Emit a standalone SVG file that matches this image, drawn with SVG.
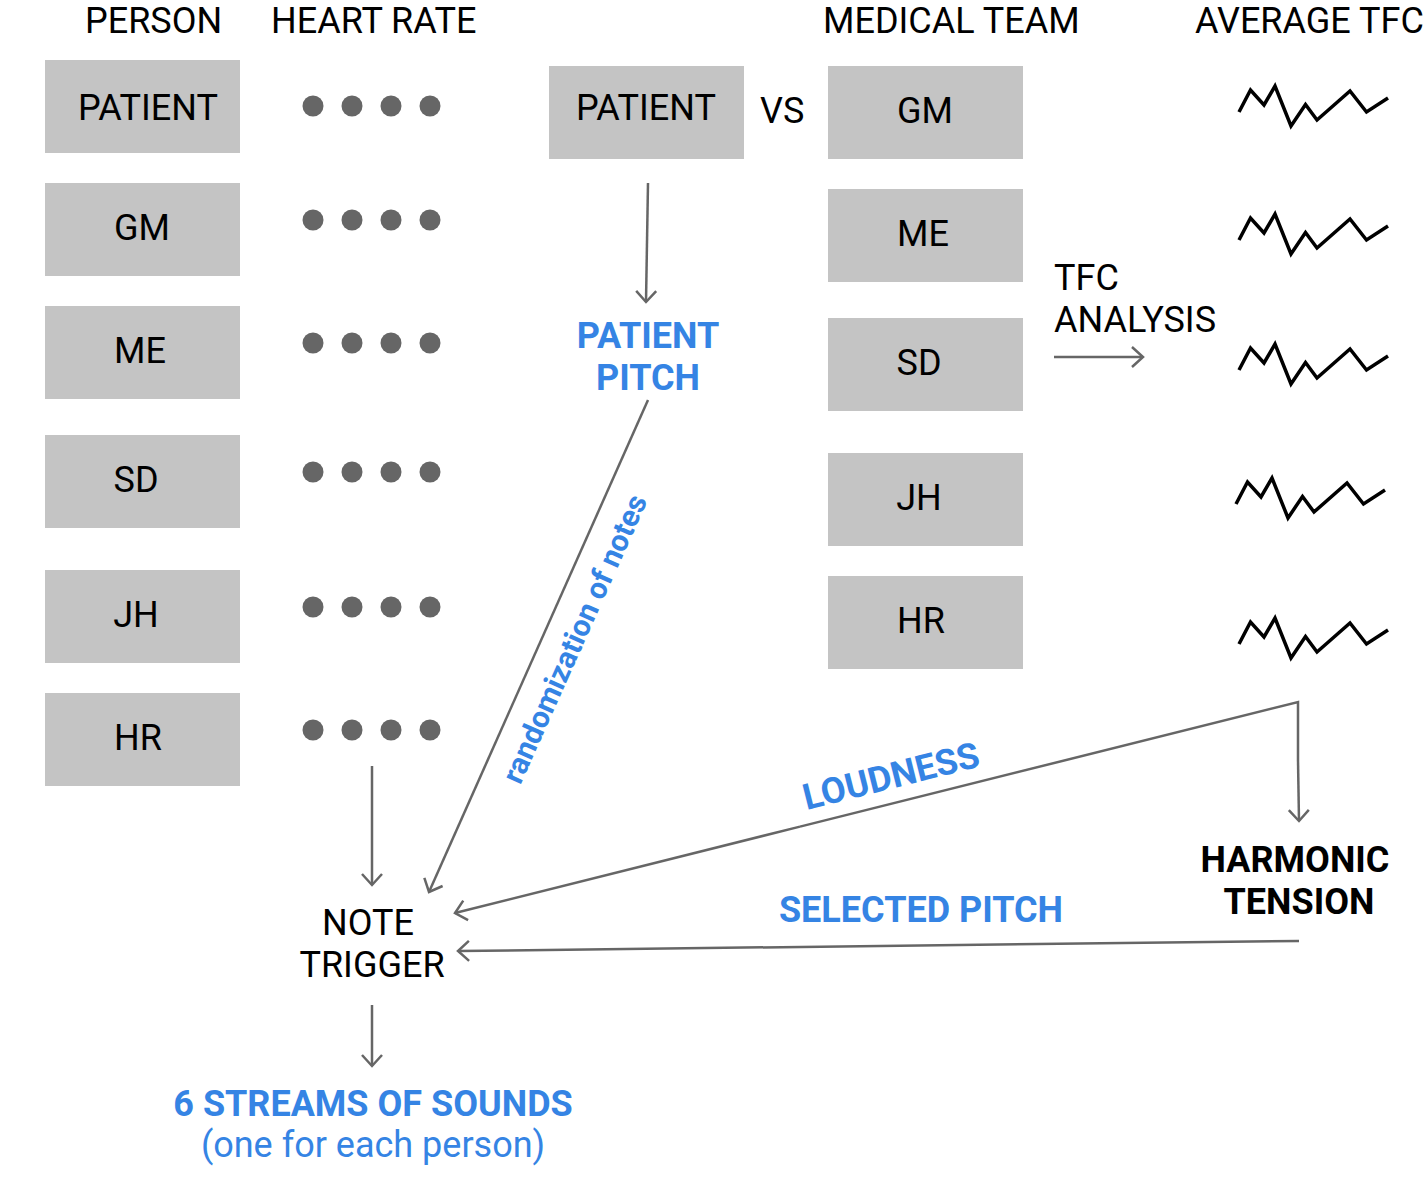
<svg xmlns="http://www.w3.org/2000/svg" width="1428" height="1191" viewBox="0 0 1428 1191">
<style>
text{font-family:Roboto,"Liberation Sans",sans-serif;}
.hd{font-size:36px;fill:#000;}
.bx{fill:#c4c4c4;}
.bt{font-size:36px;fill:#000;text-anchor:middle;}
.dot{fill:#666;}
.wave{fill:none;stroke:#000;stroke-width:3.5;stroke-linejoin:miter;}
.con{fill:none;stroke:#666;stroke-width:2.5;marker-end:url(#ah);}
.plain{fill:none;stroke:#666;stroke-width:2.5;}
.blue{fill:#3584e4;}
.bb{font-weight:bold;font-size:36px;}
</style>
<defs>
<marker id="ah" markerUnits="userSpaceOnUse" markerWidth="30" markerHeight="30" refX="0" refY="0" viewBox="-15 -15 30 30" orient="auto">
<path d="M-11,-10 L0,0 L-11,10" fill="none" stroke="#666" stroke-width="2.5"/>
</marker>
<path id="wv" d="M0,0 L11.5,-22 L25,-7 L36,-26 L52,14 L66.5,-7.5 L78,8 L111,-21 L127.5,0 L149,-14"/>
</defs>
<g id="headers">
<text class="hd" x="85" y="33">PERSON</text>
<text class="hd" x="271" y="33">HEART RATE</text>
<text class="hd" x="823" y="33">MEDICAL TEAM</text>
<text class="hd" x="1195" y="33">AVERAGE TFC</text>
</g>
<g id="person-patient"><rect class="bx" x="45" y="60" width="195" height="93"/><text class="bt" x="148" y="120">PATIENT</text></g>
<g id="person-gm"><rect class="bx" x="45" y="183" width="195" height="93"/><text class="bt" x="142" y="240">GM</text></g>
<g id="person-me"><rect class="bx" x="45" y="306" width="195" height="93"/><text class="bt" x="140" y="363">ME</text></g>
<g id="person-sd"><rect class="bx" x="45" y="435" width="195" height="93"/><text class="bt" x="136" y="492">SD</text></g>
<g id="person-jh"><rect class="bx" x="45" y="570" width="195" height="93"/><text class="bt" x="136" y="627">JH</text></g>
<g id="person-hr"><rect class="bx" x="45" y="693" width="195" height="93"/><text class="bt" x="138" y="750">HR</text></g>
<g id="heart-rate">
<g id="hr1"><circle class="dot" cx="313" cy="106" r="10.5"/><circle class="dot" cx="352" cy="106" r="10.5"/><circle class="dot" cx="391" cy="106" r="10.5"/><circle class="dot" cx="430" cy="106" r="10.5"/></g>
<g id="hr2"><circle class="dot" cx="313" cy="220" r="10.5"/><circle class="dot" cx="352" cy="220" r="10.5"/><circle class="dot" cx="391" cy="220" r="10.5"/><circle class="dot" cx="430" cy="220" r="10.5"/></g>
<g id="hr3"><circle class="dot" cx="313" cy="343" r="10.5"/><circle class="dot" cx="352" cy="343" r="10.5"/><circle class="dot" cx="391" cy="343" r="10.5"/><circle class="dot" cx="430" cy="343" r="10.5"/></g>
<g id="hr4"><circle class="dot" cx="313" cy="472" r="10.5"/><circle class="dot" cx="352" cy="472" r="10.5"/><circle class="dot" cx="391" cy="472" r="10.5"/><circle class="dot" cx="430" cy="472" r="10.5"/></g>
<g id="hr5"><circle class="dot" cx="313" cy="607" r="10.5"/><circle class="dot" cx="352" cy="607" r="10.5"/><circle class="dot" cx="391" cy="607" r="10.5"/><circle class="dot" cx="430" cy="607" r="10.5"/></g>
<g id="hr6"><circle class="dot" cx="313" cy="730" r="10.5"/><circle class="dot" cx="352" cy="730" r="10.5"/><circle class="dot" cx="391" cy="730" r="10.5"/><circle class="dot" cx="430" cy="730" r="10.5"/></g>
</g>
<g id="patient-mid"><rect class="bx" x="549" y="66" width="195" height="93"/><text class="bt" x="646" y="120">PATIENT</text></g>
<g id="vs"><text class="hd" x="760" y="123">VS</text></g>
<g id="team-gm"><rect class="bx" x="828" y="66" width="195" height="93"/><text class="bt" x="925" y="123">GM</text></g>
<g id="team-me"><rect class="bx" x="828" y="189" width="195" height="93"/><text class="bt" x="923" y="246">ME</text></g>
<g id="team-sd"><rect class="bx" x="828" y="318" width="195" height="93"/><text class="bt" x="919" y="375">SD</text></g>
<g id="team-jh"><rect class="bx" x="828" y="453" width="195" height="93"/><text class="bt" x="919" y="510">JH</text></g>
<g id="team-hr"><rect class="bx" x="828" y="576" width="195" height="93"/><text class="bt" x="921" y="633">HR</text></g>
<g id="tfc-waves">
<use href="#wv" class="wave" x="1239" y="112"/>
<use href="#wv" class="wave" x="1239" y="240"/>
<use href="#wv" class="wave" x="1239" y="370"/>
<use href="#wv" class="wave" x="1236" y="504"/>
<use href="#wv" class="wave" x="1239" y="644"/>
</g>
<g id="tfc-analysis"><text class="hd" x="1054" y="290">TFC</text><text class="hd" x="1054" y="332">ANALYSIS</text></g>
<g id="patient-pitch"><text class="blue bb" text-anchor="middle" x="648" y="348">PATIENT</text><text class="blue bb" text-anchor="middle" x="648" y="390">PITCH</text></g>
<g id="note-trigger"><text class="hd" text-anchor="middle" x="368" y="935">NOTE</text><text class="hd" text-anchor="middle" x="372" y="977">TRIGGER</text></g>
<g id="harmonic-tension"><text class="bb" text-anchor="middle" x="1295" y="872">HARMONIC</text><text class="bb" text-anchor="middle" x="1299" y="914">TENSION</text></g>
<g id="streams"><text class="blue bb" text-anchor="middle" x="373" y="1116">6 STREAMS OF SOUNDS</text><text class="blue" font-size="36" text-anchor="middle" x="373" y="1157">(one for each person)</text></g>
<g id="connectors">
<line class="con" x1="1054" y1="357" x2="1143" y2="357"/>
<line class="con" x1="648" y1="183" x2="646" y2="302"/>
<line class="con" x1="648" y1="400" x2="429" y2="892"/>
<polyline class="plain" points="1298,760 1298,702 800,826.6"/>
<line class="con" x1="1298" y1="760" x2="1299" y2="821"/>
<line class="con" x1="800" y1="826.6" x2="455" y2="913"/>
<line class="con" x1="1299" y1="941" x2="458" y2="951"/>
<line class="con" x1="372" y1="766" x2="372" y2="885"/>
<line class="con" x1="372" y1="1005" x2="372" y2="1066"/>
<text class="blue" font-size="30" font-weight="bold" text-anchor="middle" transform="translate(584,643) rotate(-65.9)">randomization of notes</text>
<text class="blue bb" text-anchor="middle" transform="translate(894,788) rotate(-14.05)">LOUDNESS</text>
<text class="blue bb" text-anchor="middle" x="921" y="922">SELECTED PITCH</text>
</g>
</svg>
